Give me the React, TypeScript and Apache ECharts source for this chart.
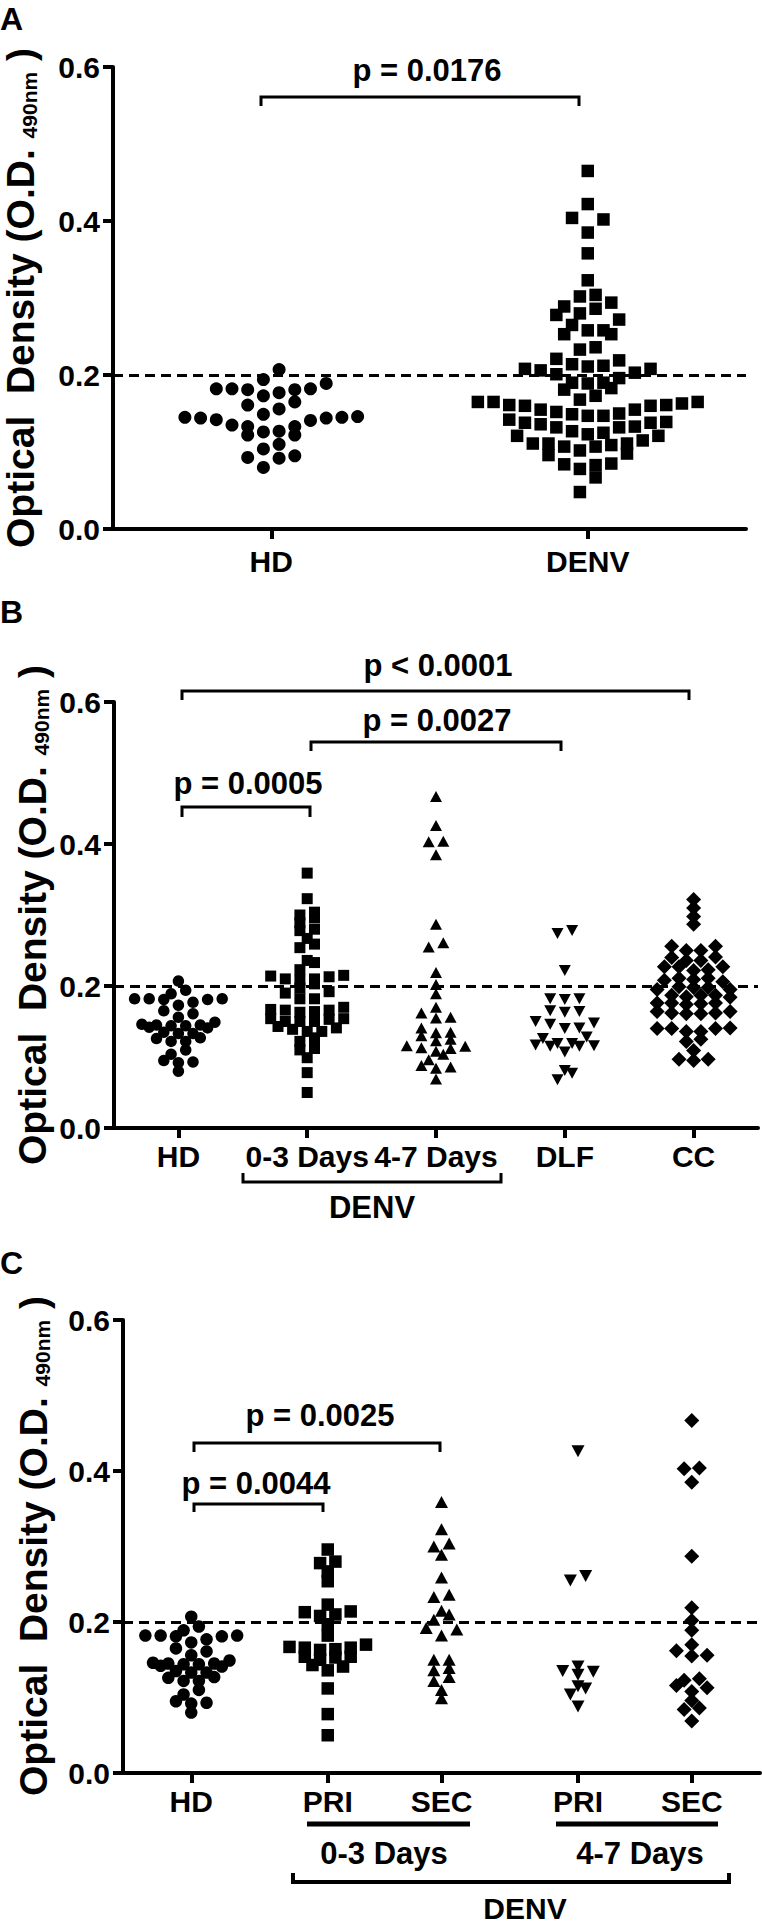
import React, { useEffect, useRef } from "react";
import * as echarts from "echarts";

// ---------------- data ----------------
const hdValues = [
  0.207, 0.194, 0.189, 0.182, 0.182, 0.181, 0.177, 0.181, 0.182, 0.173, 0.165, 0.161,
  0.156, 0.149, 0.145, 0.144, 0.141, 0.135, 0.133, 0.142, 0.144, 0.145, 0.146, 0.122,
  0.126, 0.127, 0.133, 0.122, 0.110, 0.104, 0.092, 0.093, 0.095, 0.080,
];
const denvValues = [
  0.465, 0.422, 0.404, 0.402, 0.385, 0.358, 0.323, 0.304, 0.302, 0.294, 0.289, 0.286,
  0.278, 0.280, 0.272, 0.265, 0.258, 0.253, 0.253, 0.258, 0.233, 0.236, 0.219, 0.212,
  0.211, 0.214, 0.221, 0.208, 0.206, 0.208, 0.203, 0.201, 0.190, 0.190, 0.189, 0.196,
  0.183, 0.181, 0.173, 0.161, 0.160, 0.155, 0.150, 0.165, 0.165, 0.163, 0.165, 0.168,
  0.155, 0.160, 0.161, 0.152, 0.149, 0.147, 0.142, 0.147, 0.138, 0.138, 0.133, 0.132,
  0.125, 0.121, 0.121, 0.123, 0.127, 0.132, 0.136, 0.139, 0.115, 0.111, 0.109, 0.107,
  0.098, 0.102, 0.107, 0.096, 0.111, 0.111, 0.085, 0.083, 0.078, 0.084, 0.067, 0.048,
];
const days03Pri = [
  0.296, 0.280, 0.278, 0.267, 0.254, 0.223, 0.213, 0.208, 0.210, 0.214, 0.197, 0.182,
  0.166, 0.163, 0.167, 0.170, 0.166, 0.164, 0.154, 0.150, 0.154, 0.153, 0.141, 0.136,
  0.143, 0.112, 0.078, 0.050,
];
const days03Sec = [
  0.359, 0.323, 0.300, 0.304, 0.289, 0.259, 0.236, 0.233, 0.215, 0.210, 0.203, 0.190,
  0.192, 0.182, 0.150, 0.150, 0.139, 0.136, 0.127, 0.122, 0.110, 0.099,
];
const days47Pri = [0.426, 0.261, 0.255, 0.141, 0.134, 0.135, 0.130, 0.115, 0.112, 0.104, 0.088];
const days47Sec = [
  0.467, 0.403, 0.404, 0.385, 0.287, 0.219, 0.202, 0.189, 0.170, 0.156, 0.155, 0.162,
  0.116, 0.123, 0.125, 0.113, 0.108, 0.086, 0.096, 0.084, 0.069,
];
const dlfValues = [
  0.278, 0.274, 0.222, 0.182, 0.181, 0.182, 0.164, 0.163, 0.165, 0.148, 0.150, 0.146,
  0.140, 0.141, 0.128, 0.126, 0.119, 0.116, 0.115, 0.115, 0.117, 0.119, 0.107, 0.081,
  0.077, 0.068,
];
const ccValues = [
  0.322, 0.310, 0.298, 0.287, 0.250, 0.256, 0.256, 0.250, 0.240, 0.236, 0.236, 0.241,
  0.227, 0.222, 0.223, 0.227, 0.227, 0.211, 0.206, 0.208, 0.209, 0.211, 0.199, 0.195,
  0.198, 0.195, 0.198, 0.187, 0.187, 0.185, 0.187, 0.184, 0.176, 0.175, 0.176, 0.174,
  0.176, 0.162, 0.164, 0.162, 0.161, 0.164, 0.161, 0.140, 0.136, 0.140, 0.140, 0.141,
  0.136, 0.125, 0.122, 0.109, 0.097, 0.095, 0.097,
];

const categoriesA = ["HD", "DENV"];
const categoriesB = ["HD", "0-3 Days", "4-7 Days", "DLF", "CC"];
const categoriesC = ["HD", "PRI", "SEC", "PRI", "SEC"];
const positionsC = [0, 1.2, 2.2, 3.4, 4.4];
const yMin = 0;
const yMax = 0.6;
const yStep = 0.2;
const cutoffValue = 0.197;
const pLabelsA = ["p = 0.0176"];
const pLabelsB = ["p < 0.0001", "p = 0.0027", "p = 0.0005"];
const pLabelsC = ["p = 0.0025", "p = 0.0044"];
const dayGroupLabels = ["0-3 Days", "4-7 Days"];
const denvLabel = "DENV";
const panelLetters = ["A", "B", "C"];

// ---------------- layout / style ----------------
const FONT = '"Liberation Sans", Arial, Helvetica, sans-serif';
const BLACK = "#000";
const GRIDS = [
  { left: 113, top: 67, width: 633, height: 462 },
  { left: 114, top: 702, width: 644, height: 426 },
  { left: 123, top: 1320, width: 637, height: 453 },
];

// Prism-like scatter-dot layout: rows of nearby values spread side by side
function swarm(values: number[], binW: number) {
  const s = values.slice().sort((a, b) => a - b);
  const out: { v: number; slot: number }[] = [];
  let i = 0;
  while (i < s.length) {
    const start = s[i];
    const row: number[] = [];
    while (i < s.length && s[i] - start <= binW + 1e-9) {
      row.push(s[i]);
      i++;
    }
    const m = row.length;
    row.forEach((v, k) => {
      let slot: number;
      if (m % 2 === 1) {
        slot = k === 0 ? 0 : k % 2 === 1 ? (k + 1) / 2 : -k / 2;
      } else {
        const j = Math.floor(k / 2);
        slot = (k % 2 === 0 ? -1 : 1) * (j + 0.5);
      }
      out.push({ v, slot });
    });
  }
  return out;
}

function dots(
  grid: number,
  x: number,
  values: number[],
  binW: number,
  spacing: number,
  symbol: string,
  size: number | number[],
  rotate = 0,
  withCutoff = false
): any {
  const s: any = {
    type: "scatter",
    xAxisIndex: grid,
    yAxisIndex: grid,
    symbol,
    symbolSize: size,
    symbolRotate: rotate,
    silent: true,
    itemStyle: { color: BLACK, opacity: 1 },
    data: swarm(values, binW).map((p) => ({ value: [x, p.v], symbolOffset: [p.slot * spacing, 0] })),
    z: 3,
  };
  if (withCutoff) {
    s.markLine = {
      silent: true,
      symbol: "none",
      animation: false,
      label: { show: false },
      lineStyle: { color: BLACK, width: 3, type: [10, 6] },
      data: [{ yAxis: cutoffValue }],
      z: 2,
    };
  }
  return s;
}

const axisLine = { show: true, onZero: false, lineStyle: { color: BLACK, width: 4 } };
const axisTick = { show: true, length: 10, lineStyle: { color: BLACK, width: 4 } };
const xLabel = (margin: number) => ({
  color: BLACK,
  fontSize: 30,
  fontWeight: "bold",
  fontFamily: FONT,
  margin,
  interval: 0,
  hideOverlap: false,
});

function yAxis(gridIndex: number) {
  return {
    type: "value",
    gridIndex,
    min: yMin,
    max: yMax,
    interval: yStep,
    axisLine,
    axisTick,
    splitLine: { show: false },
    axisLabel: {
      color: BLACK,
      fontSize: 30,
      fontWeight: "bold",
      fontFamily: FONT,
      margin: 13,
      formatter: (v: number) => v.toFixed(1),
    },
  };
}

const txt = (text: string, x: number, y: number, size = 31, align = "center") => ({
  type: "text",
  x,
  y,
  silent: true,
  style: { text, fill: BLACK, fontSize: size, fontWeight: "bold", fontFamily: FONT, align, verticalAlign: "middle" },
});
const bracket = (x1: number, x2: number, yTop: number, yLeg: number, lw = 3) => ({
  type: "polyline",
  silent: true,
  shape: { points: [[x1, yLeg], [x1, yTop], [x2, yTop], [x2, yLeg]] },
  style: { stroke: BLACK, lineWidth: lw, fill: null },
});
const hline = (x1: number, x2: number, y: number, lw: number) => ({
  type: "line",
  silent: true,
  shape: { x1, y1: y, x2, y2: y },
  style: { stroke: BLACK, lineWidth: lw },
});
const yTitle = (x: number, y: number) => ({
  type: "text",
  x,
  y,
  rotation: Math.PI / 2,
  silent: true,
  style: {
    text: "{m|Optical\u00a0 Density (O.D. }{s|490nm}{m| )}",
    align: "center",
    verticalAlign: "middle",
    rich: {
      m: { fontSize: 39, fontWeight: "bold", fontFamily: FONT, fill: BLACK },
      s: { fontSize: 21, fontWeight: "bold", fontFamily: FONT, fill: BLACK, verticalAlign: "bottom" },
    },
  },
});

export default function App() {
  const ref = useRef<HTMLDivElement>(null);
  useEffect(() => {
    document.body.style.margin = "0";
    if (!ref.current) return;
    const chart = echarts.init(ref.current, null, { renderer: "svg" });

    const option: any = {
      animation: false,
      backgroundColor: "#fff",
      grid: GRIDS.map((g) => ({ ...g, containLabel: false, outerBoundsMode: "none" })),
      xAxis: [
        {
          type: "category",
          gridIndex: 0,
          data: categoriesA,
          boundaryGap: true,
          axisLine,
          axisTick: { ...axisTick, alignWithLabel: true },
          axisLabel: xLabel(17),
          splitLine: { show: false },
        },
        {
          type: "category",
          gridIndex: 1,
          data: categoriesB,
          boundaryGap: true,
          axisLine,
          axisTick: { ...axisTick, alignWithLabel: true },
          axisLabel: xLabel(13),
          splitLine: { show: false },
        },
        {
          type: "value",
          gridIndex: 2,
          min: -0.6,
          max: 5.0,
          axisLine,
          axisTick: { ...axisTick, customValues: positionsC },
          axisLabel: {
            ...xLabel(13),
            customValues: positionsC,
            formatter: (v: number) => {
              const i = positionsC.findIndex((p) => Math.abs(p - v) < 1e-6);
              return i >= 0 ? categoriesC[i] : "";
            },
          },
          splitLine: { show: false },
        },
      ],
      yAxis: [yAxis(0), yAxis(1), yAxis(2)],
      series: [
        // Panel A
        dots(0, 0, hdValues, 0.02, 15.7, "circle", 13, 0, true),
        dots(0, 1, denvValues, 0.02, 15.7, "rect", 12.5),
        // Panel B
        dots(1, 0, hdValues, 0.01, 14.6, "circle", 11.5, 0, true),
        dots(1, 1, [...days03Pri, ...days03Sec], 0.01, 14.6, "rect", 11),
        dots(1, 2, [...days47Pri, ...days47Sec], 0.01, 14.6, "triangle", [12, 11]),
        dots(1, 3, dlfValues, 0.01, 14.6, "triangle", [12, 11], 180),
        dots(1, 4, ccValues, 0.01, 14.6, "diamond", [15, 15]),
        // Panel C
        dots(2, positionsC[0], hdValues, 0.01, 15.3, "circle", 12.5, 0, true),
        dots(2, positionsC[1], days03Pri, 0.01, 15.3, "rect", 12.5),
        dots(2, positionsC[2], days03Sec, 0.01, 15.3, "triangle", [13, 12]),
        dots(2, positionsC[3], days47Pri, 0.01, 15.3, "triangle", [13, 12], 180),
        dots(2, positionsC[4], days47Sec, 0.01, 15.3, "diamond", [15, 15]),
      ],
      graphic: {
        elements: [
          // panel letters
          txt(panelLetters[0], 0, 19, 32, "left"),
          txt(panelLetters[1], 0, 612, 32, "left"),
          txt(panelLetters[2], 0, 1263, 32, "left"),
          // y titles
          yTitle(20, 298),
          yTitle(32, 915),
          yTitle(33, 1546),
          // Panel A
          bracket(261, 579, 97, 106),
          txt(pLabelsA[0], 427, 70),
          // Panel B
          bracket(182, 689, 691, 700),
          txt(pLabelsB[0], 438, 665),
          bracket(311, 561, 742, 751),
          txt(pLabelsB[1], 437, 720),
          bracket(182, 310, 807, 817),
          txt(pLabelsB[2], 248, 783),
          bracket(243, 501, 1182, 1173),
          txt(denvLabel, 372, 1207),
          // Panel C
          bracket(194, 440, 1443, 1452),
          txt(pLabelsC[0], 320, 1415),
          bracket(194, 323, 1504, 1512),
          txt(pLabelsC[1], 256, 1483),
          hline(307, 470, 1824, 5),
          hline(556, 718, 1824, 5),
          txt(dayGroupLabels[0], 384, 1853),
          txt(dayGroupLabels[1], 640, 1853),
          bracket(293, 729, 1882, 1873, 4),
          txt(denvLabel, 525, 1908, 30),
        ],
      },
    };

    chart.setOption(option);
    return () => chart.dispose();
  }, []);

  return <div ref={ref} style={{ width: 762, height: 1925 }} />;
}
